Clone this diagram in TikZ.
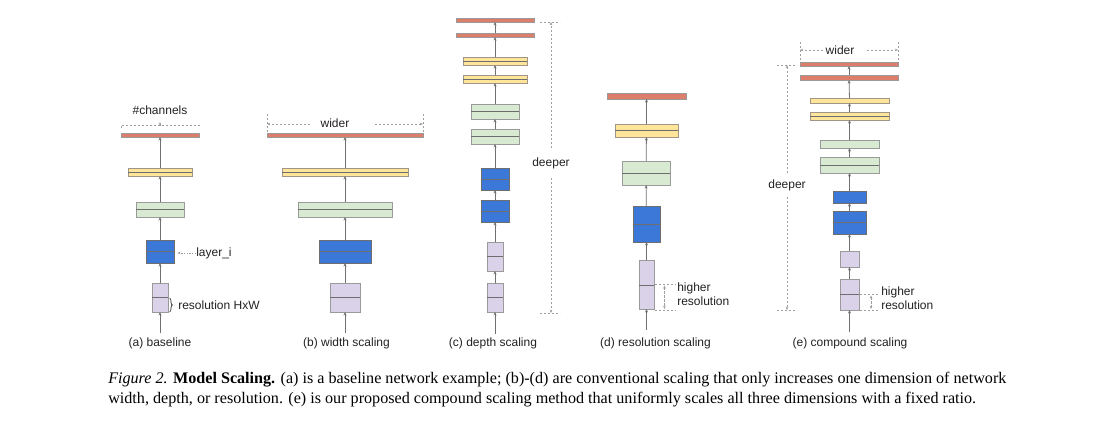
\documentclass[tikz,border=0pt]{standalone}
\usepackage{fontspec}
\setmainfont{Liberation Serif}
\newfontfamily\labfont{Liberation Sans}
\usetikzlibrary{arrows.meta,decorations.pathreplacing}
\definecolor{cred}{HTML}{DD7E6B}
\definecolor{cyel}{HTML}{FFE599}
\definecolor{cgrn}{HTML}{D9EAD3}
\definecolor{cblu}{HTML}{3C78D8}
\definecolor{cpur}{HTML}{D9D2E9}
\definecolor{cbord}{HTML}{9A9A9A}
\definecolor{cmidl}{HTML}{6E6E6E}
\definecolor{cconn}{HTML}{707070}
\definecolor{cdim}{HTML}{9E9E9E}
\definecolor{ctext}{HTML}{222222}
\newcommand{\blk}[6]{\node[#1, minimum width={(#5-#3)*0.75pt}, minimum height={(#6-#4)*0.75pt}] (#2) at ({(#3+#5)/2},{(#4+#6)/2}) {};}
\newcommand{\midl}[1]{\draw[midline] (#1.west) -- (#1.east);}
\begin{document}
\begin{tikzpicture}[x=0.75pt,y=-0.75pt,
  box/.style={draw=cbord, inner sep=0pt, outer sep=0pt, line width=0.6pt},
  rb/.style={box, fill=cred, draw=cbord},
  yb/.style={box, fill=cyel, draw=cbord!80!brown},
  gb/.style={box, fill=cgrn},
  bb/.style={box, fill=cblu, draw=cmidl},
  pb/.style={box, fill=cpur},
  midline/.style={draw=cmidl, line width=0.6pt},
  conn/.style={draw=cconn, line width=0.6pt, -{Stealth[length=2.6pt,width=2.2pt]}},
  dim/.style={draw=cdim, line width=0.5pt, dash pattern=on 1.6pt off 1.4pt},
  dimarr/.style={dim, -{Stealth[length=2.4pt,width=2pt]}},
  dimarrb/.style={dim, {Stealth[length=2.4pt,width=2pt]}-{Stealth[length=2.4pt,width=2pt]}},
  lbl/.style={font=\labfont\fontsize{9}{10.5}\selectfont, text=ctext, inner sep=0pt},
  captxt/.style={font=\fontsize{12.1}{14}\selectfont, text=black, inner sep=0pt}
]
\useasboundingbox (0,0) rectangle (1105,432);

% ---------------- (a) baseline ----------------
\blk{rb}{ra}{121}{133}{199}{137}
\blk{yb}{ya}{128}{168}{192}{176}\midl{ya}
\blk{gb}{ga}{136}{202}{184}{217}\midl{ga}
\blk{bb}{ba}{146}{240}{174}{263}\midl{ba}
\blk{pb}{pa}{152}{283}{168}{312}\midl{pa}
\coordinate (ina) at (160,333);
\foreach \u/\v in {ina/pa,pa/ba,ba/ga,ga/ya,ya/ra} \draw[conn] (\u) -- (\v);
\node[lbl] (la) at (160,343) {(a) baseline};
\node[lbl] (tch) at (160,110) {\#channels};
\draw[dim] (121,128) -- (121,125) -- (199,125) -- (199,128);
\draw[dimarr] (160,126) -- (160,122);
\node[lbl, anchor=west] (tli) at (196,253) {layer\_i};
\draw[dimarr, dash pattern=on 1pt off 1pt, shorten >=2.5pt] (tli.west) -- (tli.west -| ba.east);
\draw[draw=ctext, line width=0.5pt, decorate, decoration={brace, amplitude=2.2pt}] (169.5,298) -- (169.5,312);
\node[lbl, anchor=west] (trh) at (178,305) {resolution HxW};

% ---------------- (b) width ----------------
\blk{rb}{rbx}{267}{133}{423}{137}
\blk{yb}{ybx}{282}{168}{408}{176}\midl{ybx}
\blk{gb}{gbx}{298}{202}{392}{217}\midl{gbx}
\blk{bb}{bbx}{319}{240}{371}{263}\midl{bbx}
\blk{pb}{pbx}{330}{283}{360}{312}\midl{pbx}
\coordinate (inb) at (345,333);
\foreach \u/\v in {inb/pbx,pbx/bbx,bbx/gbx,gbx/ybx,ybx/rbx} \draw[conn] (\u) -- (\v);
\node[lbl] (lb) at (346.5,343) {(b) width scaling};
\node[lbl] (twb) at (335,123.5) {wider};
\draw[dim] (267,114) -- (267,132);
\draw[dim] (423,114) -- (423,132);
\draw[dimarr] (310,124) -- (267,124);
\draw[dimarr] (375,124) -- (423,124);

% ---------------- (c) depth ----------------
\blk{rb}{rc1}{456}{18}{534}{22}
\blk{rb}{rc2}{456}{33}{534}{37}
\blk{yb}{yc1}{463}{57}{527}{65}\midl{yc1}
\blk{yb}{yc2}{463}{75}{527}{83}\midl{yc2}
\blk{gb}{gc1}{471}{104}{519}{119}\midl{gc1}
\blk{gb}{gc2}{471}{129}{519}{144}\midl{gc2}
\blk{bb}{bc1}{481}{168}{509}{190}\midl{bc1}
\blk{bb}{bc2}{481}{200}{509}{222}\midl{bc2}
\blk{pb}{pc1}{487}{242}{503}{271}\midl{pc1}
\blk{pb}{pc2}{487}{283}{503}{312}\midl{pc2}
\coordinate (inc) at (495,334);
\foreach \u/\v in {inc/pc2,pc2/pc1,pc1/bc2,bc2/bc1,bc1/gc2,gc2/gc1,gc1/yc2,yc2/yc1,yc1/rc2,rc2/rc1} \draw[conn] (\u) -- (\v);
\node[lbl] (lc) at (493,343) {(c) depth scaling};
\node[lbl] (tdc) at (551,163) {deeper};
\draw[dim] (540,22) -- (560,22);
\draw[dim] (540,313) -- (560,313);
\draw[dimarr] (551,148) -- (551,22);
\draw[dimarr] (551,178) -- (551,313);

% ---------------- (d) resolution ----------------
\blk{rb}{rd}{607}{93}{686}{99}
\blk{yb}{yd}{615}{124}{678}{137}\midl{yd}
\blk{gb}{gd}{622}{161}{670}{185}\midl{gd}
\blk{bb}{bd}{633}{206}{660}{242}\midl{bd}
\blk{pb}{pd}{639}{260}{654}{309}
\draw[midline] (639,285) -- (654,285);
\coordinate (ind) at (646.5,330);
\foreach \u/\v in {ind/pd,pd/bd,bd/gd,gd/yd,yd/rd} \draw[conn] (\u) -- (\v);
\node[lbl] (ld) at (655.5,343) {(d) resolution scaling};
\draw[dim] (655,284.5) -- (676,284.5);
\draw[dim] (655,310) -- (676,310);
\draw[dimarrb] (664.5,285.5) -- (664.5,309);
\node[lbl, anchor=west, align=left] (thd) at (677,294.5) {higher\\resolution};

% ---------------- (e) compound ----------------
\blk{rb}{re1}{800}{62}{898}{66}
\blk{rb}{re2}{800}{75}{898}{80}
\blk{yb}{ye1}{810}{98}{889}{103}
\blk{yb}{ye2}{810}{112}{889}{120}\midl{ye2}
\blk{gb}{ge1}{820}{140}{879}{148}
\blk{gb}{ge2}{820}{157}{879}{173}\midl{ge2}
\blk{bb}{be1}{833}{191}{866}{203}
\blk{bb}{be2}{833}{211}{866}{234}\midl{be2}
\blk{pb}{pe1}{840}{251}{859}{267}
\blk{pb}{pe2}{840}{279}{859}{310}
\draw[midline] (840,294.5) -- (859,294.5);
\coordinate (ine) at (849.5,332);
\foreach \u/\v in {ine/pe2,pe2/pe1,pe1/be2,be2/be1,be1/ge2,ge2/ge1,ge1/ye2,ye2/ye1,ye1/re2,re2/re1} \draw[conn] (\u) -- (\v);
\node[lbl] (le) at (850,343) {(e) compound scaling};
\node[lbl] (twe) at (840,50) {wider};
\draw[dim] (800,42) -- (800,61);
\draw[dim] (898,42) -- (898,61);
\draw[dimarr] (823,50) -- (800,50);
\draw[dimarr] (867,50) -- (898,50);
\node[lbl] (tde) at (787,185) {deeper};
\draw[dim] (777,65) -- (797,65);
\draw[dim] (777,310) -- (797,310);
\draw[dimarr] (787,173) -- (787,65);
\draw[dimarr] (787,197) -- (787,310);
\draw[dim] (860,294.5) -- (880,294.5);
\draw[dim] (860,310) -- (880,310);
\draw[dimarrb] (871,295.5) -- (871,309);
\node[lbl, anchor=west, align=left] (the) at (881,298.5) {higher\\resolution};

% ---------------- caption ----------------
\node[captxt, anchor=base west] (cap1) at (108,383) {\textit{Figure 2.} \textbf{Model Scaling.} (a) is a baseline network example; (b)-(d) are conventional scaling that only increases one dimension of network};
\node[captxt, anchor=base west] (cap2) at (108,403) {width, depth, or resolution. (e) is our proposed compound scaling method that uniformly scales all three dimensions with a fixed ratio.};
\end{tikzpicture}
\end{document}
